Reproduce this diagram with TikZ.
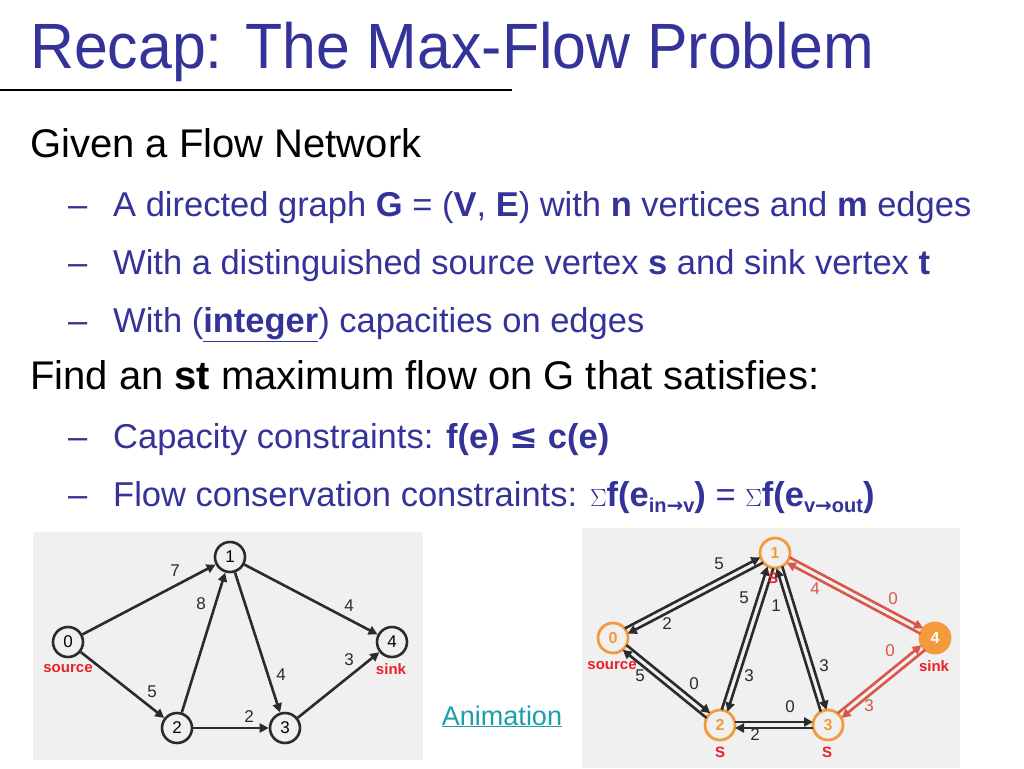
\documentclass[tikz,border=0pt]{standalone}
\usepackage{fontspec}
\setmainfont{Liberation Sans}
\newfontfamily\symf{DejaVu Sans}
\usetikzlibrary{calc,arrows.meta}
\definecolor{tblue}{HTML}{333399}
\definecolor{gbg}{HTML}{F0F0F0}
\definecolor{org}{HTML}{F39A3C}
\definecolor{rd}{HTML}{E8202A}
\definecolor{redge}{HTML}{D9574A}
\definecolor{gline}{HTML}{2B2B2B}
\definecolor{teal}{HTML}{1A9FA8}
\newcommand{\dedge}[3]{\draw[arr,#3] ($ ($(#1)!15pt!(#2)$)!3pt!90:(#2) $) -- ($ ($(#2)!15pt!(#1)$)!3pt!-90:(#1) $);}
\begin{document}
\begin{tikzpicture}[x=1pt,y=-1pt,
  arr/.style={line width=2.6pt,gline,-{Triangle[length=9pt,width=9pt]}},
  vtx/.style={circle,draw=gline,line width=2.6pt,minimum size=30pt,inner sep=0pt,font=\fontsize{17}{17}\selectfont,fill=gbg},
  ovtx/.style={circle,draw=org,line width=2.8pt,minimum size=30pt,inner sep=0pt,font=\bfseries\fontsize{16}{16}\selectfont,text=org,fill=gbg},
  wl/.style={font=\fontsize{17}{17}\selectfont,text=gline},
  rl/.style={font=\bfseries\fontsize{15}{15}\selectfont,text=rd},
  body/.style={anchor=base west,inner sep=0pt,font=\fontsize{40}{44}\selectfont},
  sub/.style={anchor=base west,inner sep=0pt,text=tblue,font=\fontsize{34.5}{38}\selectfont}]
\useasboundingbox[fill=white] (0,0) rectangle (1024,768);
\node[anchor=base west,inner sep=0pt,text=tblue,font=\fontsize{64}{70}\selectfont] (title) at (30,68) {\scalebox{0.95}[1]{Recap: The Max-Flow Problem}};
\draw[line width=1.5pt] (0,90) -- (512,90);
\node[body] (l1) at (30,157) {Given a Flow Network};
\node[sub] (d1) at (68,216) {–};
\node[sub] (s1) at (113,216) {A directed graph \textbf{G} = (\textbf{V}, \textbf{E}) with \textbf{n} vertices and \textbf{m} edges};
\node[sub] (d2) at (68,274) {–};
\node[sub] (s2) at (113,274) {With a distinguished source vertex \textbf{s} and sink vertex \textbf{t}};
\node[sub] (d3) at (68,332) {–};
\node[sub] (s3) at (113,332) {With (\underline{\textbf{integer}}) capacities on edges};
\node[body] (l2) at (30,389) {Find an \textbf{st} maximum flow on G that satisfies:};
\node[sub] (d4) at (68,448) {–};
\node[sub] (s4) at (113,448) {Capacity constraints: \textbf{f(e) {\symf ≤} c(e)}};
\node[sub] (d5) at (68,506) {–};
\node[sub] (s5) at (113,506) {Flow conservation constraints: {\rmfamily$\Sigma$}\textbf{f(e\raisebox{-6pt}{\fontsize{20}{20}\selectfont in{\symf→}v})} = {\rmfamily$\Sigma$}\textbf{f(e\raisebox{-6pt}{\fontsize{20}{20}\selectfont v{\symf→}out})}};
% graph 1
\fill[gbg] (33,532) rectangle (423,760);
\node[vtx] (a0) at (68,642) {0};
\node[vtx] (a1) at (230,557) {1};
\node[vtx] (a2) at (177,728) {2};
\node[vtx] (a3) at (285,728) {3};
\node[vtx] (a4) at (392,642) {4};
\draw[arr] (a0) -- (a1);
\draw[arr] (a0) -- (a2);
\draw[arr] (a2) -- (a1);
\draw[arr] (a1) -- (a3);
\draw[arr] (a1) -- (a4);
\draw[arr] (a2) -- (a3);
\draw[arr] (a3) -- (a4);
\node[wl] (w1) at (175,571) {7};
\node[wl] (w2) at (201,604) {8};
\node[wl] (w3) at (349,606) {4};
\node[wl] (w4) at (281,675) {4};
\node[wl] (w5) at (349,660) {3};
\node[wl] (w6) at (152,692) {5};
\node[wl] (w7) at (249,717) {2};
\node[rl] (src1) at (68,669) {source};
\node[rl] (snk1) at (391,669) {sink};
% link
\node[anchor=base,inner sep=0pt,text=teal,font=\fontsize{27}{30}\selectfont] (anim) at (502,725) {\underline{Animation}};
% graph 2
\fill[gbg] (582,528) rectangle (960,768);
\node[ovtx] (b0) at (613,638) {0};
\node[ovtx] (b1) at (775,553) {1};
\node[ovtx] (b2) at (720,725) {2};
\node[ovtx] (b3) at (828,725) {3};
\node[ovtx,fill=org,text=white] (b4) at (935,638) {4};
\dedge{b0}{b1}{}
\dedge{b1}{b0}{}
\dedge{b0}{b2}{}
\dedge{b2}{b0}{}
\dedge{b2}{b1}{}
\dedge{b1}{b2}{}
\dedge{b1}{b3}{}
\dedge{b3}{b1}{}
\dedge{b2}{b3}{}
\dedge{b3}{b2}{}
\dedge{b1}{b4}{redge}
\dedge{b4}{b1}{redge}
\dedge{b3}{b4}{redge}
\dedge{b4}{b3}{redge}
\node[wl] (x1) at (719,564) {5};
\node[wl] (x2) at (667,624) {2};
\node[wl] (x3) at (744,598) {5};
\node[wl] (x4) at (776,606) {1};
\node[wl] (x5) at (749,676) {3};
\node[wl] (x6) at (824,666) {3};
\node[wl,text=redge] (x7) at (815,589) {4};
\node[wl,text=redge] (x8) at (893,599) {0};
\node[wl,text=redge] (x9) at (890,651) {0};
\node[wl,text=redge] (x10) at (869,706) {3};
\node[wl] (x11) at (694,684) {0};
\node[wl] (x12) at (640,676) {5};
\node[wl] (x13) at (790,707) {0};
\node[wl] (x14) at (755,735) {2};
\node[rl] (S1) at (773,578) {S};
\node[rl] (S2) at (720,752) {S};
\node[rl] (S3) at (827,752) {S};
\node[rl] (src2) at (612,666) {source};
\node[rl] (snk2) at (934,666) {sink};
\end{tikzpicture}
\end{document}
